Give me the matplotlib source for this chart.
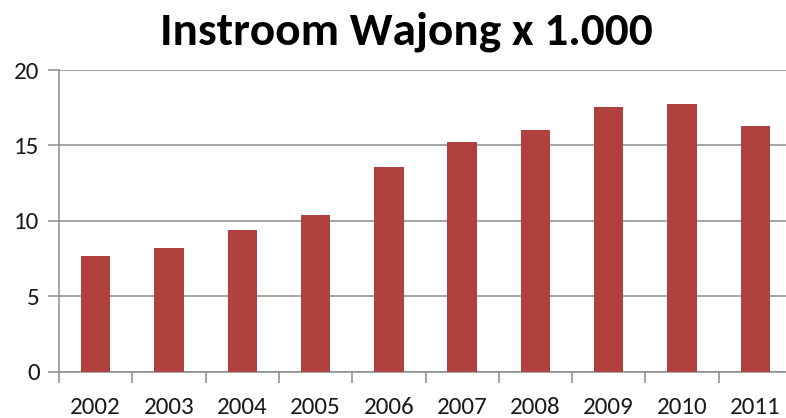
import matplotlib.pyplot as plt
from matplotlib import font_manager

jaren = ['2002', '2003', '2004', '2005', '2006', '2007', '2008', '2009', '2010', '2011']
instroom = [7.7, 8.2, 9.4, 10.4, 13.6, 15.25, 16.05, 17.55, 17.75, 16.3]
y_ticks = [0, 5, 10, 15, 20]

# Calibri-achtig lettertype kiezen als het er is
namen = set(f.name for f in font_manager.fontManager.ttflist)
font = 'Lato'
for kandidaat in ['Carlito', 'Lato']:
    if kandidaat in namen:
        font = kandidaat
        break
plt.rcParams['font.family'] = [font, 'DejaVu Sans']

fig = plt.figure(figsize=(7.86, 4.18), dpi=100)
ax = fig.add_axes([59 / 786, 46.3 / 418, 733 / 786, 301.7 / 418])

x = list(range(len(jaren)))
ax.bar(x, instroom, width=0.4, color='#b0413e', zorder=3)

ax.set_xlim(-0.5, len(jaren) - 0.5)
ax.set_ylim(0, 20)
ax.set_yticks(y_ticks)
ax.yaxis.grid(True, color='#8c8c8c', linewidth=1.1, zorder=0)

# streepjes tussen de categorieen
ax.set_xticks([i - 0.5 for i in range(len(jaren) + 1)])
ax.set_xticklabels([])
ax.set_xticks(x, minor=True)
ax.set_xticklabels(jaren, minor=True)
ax.tick_params(axis='x', which='major', length=8, width=1.1, color='#8c8c8c', direction='out')
ax.tick_params(axis='x', which='minor', length=0, pad=18, labelsize=18, labelcolor='#1a1a1a')
ax.tick_params(axis='y', length=8, width=1.1, color='#8c8c8c', pad=6, labelsize=18, labelcolor='#1a1a1a')

for kant in ['top', 'right']:
    ax.spines[kant].set_visible(False)
ax.spines['left'].set_color('#8c8c8c')
ax.spines['bottom'].set_color('#8c8c8c')
ax.spines['left'].set_linewidth(1.1)
ax.spines['bottom'].set_linewidth(1.1)

fig.text(406 / 786, 1 - 45 / 418, 'Instroom Wajong x 1.000', ha='center', va='baseline',
         fontsize=34, fontweight='bold', color='black')

fig.savefig('out.png', dpi=100)
